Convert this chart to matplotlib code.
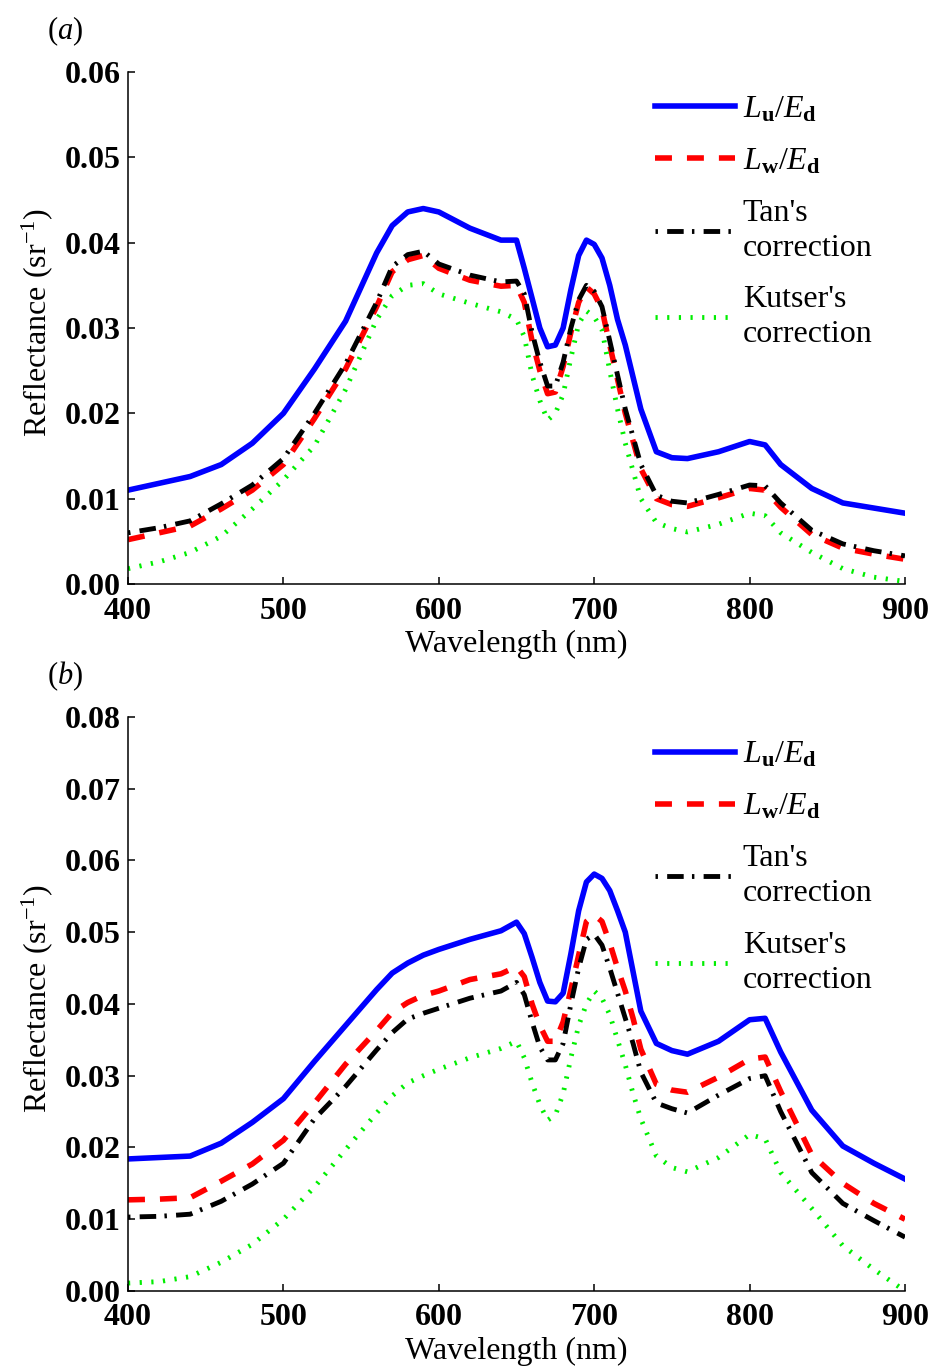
import numpy as np
import matplotlib
matplotlib.use('Agg')
import matplotlib.pyplot as plt

plt.rcParams['font.family'] = ['Liberation Serif', 'DejaVu Serif']
plt.rcParams['mathtext.fontset'] = 'custom'
plt.rcParams['mathtext.rm'] = 'Liberation Serif'
plt.rcParams['mathtext.it'] = 'Liberation Serif:italic'
plt.rcParams['mathtext.bf'] = 'Liberation Serif:bold'

# wavelength grids (nm)
wl_a = [400, 420, 440, 460, 480, 500, 520, 540, 560, 570, 580, 590, 600, 620, 640, 650,
        655, 660, 665, 670, 675, 680, 685, 690, 695, 700, 705, 710, 715, 720, 730, 740,
        750, 760, 780, 800, 810, 820, 840, 860, 880, 900]
wl_b = [400, 420, 440, 460, 480, 500, 520, 540, 560, 570, 580, 590, 600, 620, 640, 650,
        655, 660, 665, 670, 675, 680, 685, 690, 695, 700, 705, 710, 715, 720, 725, 730,
        740, 750, 760, 780, 800, 810, 820, 840, 860, 880, 900]

# panel (a)
lu_a = [0.0110, 0.0118, 0.0126, 0.0140, 0.0165, 0.0200, 0.0252, 0.0308, 0.0388, 0.0420,
        0.0436, 0.0440, 0.0436, 0.0417, 0.0403, 0.0403, 0.0370, 0.0335, 0.0300, 0.0278,
        0.0280, 0.0300, 0.0345, 0.0385, 0.0403, 0.0398, 0.0382, 0.0350, 0.0310, 0.0280,
        0.0205, 0.0155, 0.0148, 0.0147, 0.0155, 0.0167, 0.0163, 0.0140, 0.0112, 0.0095,
        0.0089, 0.0083]
lw_a = [0.0052, 0.0060, 0.0068, 0.0088, 0.0110, 0.0140, 0.0194, 0.0252, 0.0325, 0.0366,
        0.0380, 0.0385, 0.0370, 0.0356, 0.0349, 0.0350, 0.0330, 0.0285, 0.0250, 0.0223,
        0.0225, 0.0255, 0.0295, 0.0330, 0.0348, 0.0340, 0.0322, 0.0280, 0.0240, 0.0200,
        0.0135, 0.0100, 0.0093, 0.0091, 0.0101, 0.0112, 0.0110, 0.0090, 0.0058, 0.0042,
        0.0035, 0.0029]
tan_a = [0.0060, 0.0066, 0.0074, 0.0094, 0.0116, 0.0147, 0.0200, 0.0258, 0.0330, 0.0372,
         0.0386, 0.0390, 0.0375, 0.0362, 0.0354, 0.0355, 0.0340, 0.0295, 0.0260, 0.0232,
         0.0232, 0.0260, 0.0300, 0.0333, 0.0350, 0.0343, 0.0325, 0.0285, 0.0245, 0.0205,
         0.0140, 0.0104, 0.0097, 0.0095, 0.0105, 0.0116, 0.0115, 0.0095, 0.0063, 0.0047,
         0.0039, 0.0033]
kut_a = [0.0018, 0.0026, 0.0037, 0.0056, 0.0088, 0.0122, 0.0162, 0.0228, 0.0310, 0.0338,
         0.0350, 0.0352, 0.0340, 0.0329, 0.0319, 0.0310, 0.0290, 0.0245, 0.0215, 0.0192,
         0.0200, 0.0222, 0.0265, 0.0305, 0.0320, 0.0313, 0.0298, 0.0250, 0.0205, 0.0165,
         0.0100, 0.0072, 0.0065, 0.0061, 0.0070, 0.0083, 0.0080, 0.0060, 0.0037, 0.0018,
         0.0008, 0.0003]

# panel (b)
lu_b = [0.0184, 0.0186, 0.0188, 0.0206, 0.0235, 0.0268, 0.0320, 0.0370, 0.0420, 0.0443,
        0.0457, 0.0468, 0.0476, 0.0490, 0.0502, 0.0514, 0.0498, 0.0465, 0.0430, 0.0404,
        0.0403, 0.0415, 0.0470, 0.0530, 0.0570, 0.0581, 0.0575, 0.0558, 0.0530, 0.0500,
        0.0445, 0.0390, 0.0345, 0.0335, 0.0330, 0.0348, 0.0378, 0.0380, 0.0333, 0.0252,
        0.0202, 0.0178, 0.0156]
lw_b = [0.0127, 0.0128, 0.0130, 0.0153, 0.0177, 0.0210, 0.0262, 0.0316, 0.0363, 0.0388,
        0.0402, 0.0412, 0.0418, 0.0434, 0.0442, 0.0452, 0.0438, 0.0400, 0.0370, 0.0348,
        0.0348, 0.0375, 0.0420, 0.0468, 0.0515, 0.0524, 0.0515, 0.0485, 0.0450, 0.0418,
        0.0380, 0.0337, 0.0288, 0.0280, 0.0277, 0.0298, 0.0323, 0.0326, 0.0278, 0.0190,
        0.0150, 0.0122, 0.0100]
tan_b = [0.0103, 0.0104, 0.0107, 0.0125, 0.0149, 0.0178, 0.0240, 0.0285, 0.0336, 0.0360,
         0.0379, 0.0387, 0.0394, 0.0408, 0.0418, 0.0430, 0.0413, 0.0375, 0.0340, 0.0322,
         0.0322, 0.0345, 0.0400, 0.0450, 0.0490, 0.0497, 0.0482, 0.0450, 0.0415, 0.0380,
         0.0345, 0.0305, 0.0262, 0.0254, 0.0248, 0.0273, 0.0296, 0.0300, 0.0250, 0.0165,
         0.0122, 0.0098, 0.0075]
kut_b = [0.0011, 0.0013, 0.0020, 0.0040, 0.0065, 0.0100, 0.0145, 0.0197, 0.0248, 0.0272,
         0.0290, 0.0300, 0.0309, 0.0325, 0.0338, 0.0348, 0.0325, 0.0290, 0.0260, 0.0238,
         0.0245, 0.0275, 0.0325, 0.0370, 0.0400, 0.0418, 0.0408, 0.0385, 0.0350, 0.0315,
         0.0275, 0.0240, 0.0188, 0.0172, 0.0166, 0.0186, 0.0218, 0.0212, 0.0165, 0.0115,
         0.0063, 0.0030, 0.0000]

labels = [r'$L_{\mathbf{u}}/E_{\mathbf{d}}$', r'$L_{\mathbf{w}}/E_{\mathbf{d}}$',
          "Tan's\ncorrection", "Kutser's\ncorrection"]

fs = 23
fig = plt.figure(figsize=(9.33, 13.69), dpi=100)
ax_a = fig.add_axes([0.1372, 0.5734, 0.8328, 0.374])
ax_b = fig.add_axes([0.1372, 0.0570, 0.8328, 0.4193])


def draw_panel(ax, wl, lu, lw, tan, kut, ymax, tag, leg_y):
    ax.plot(wl, lu, color='#0000ff', lw=4, solid_joinstyle='round', label=labels[0])
    ax.plot(wl, lw, color='#ff0000', lw=4, linestyle=(0, (3.05, 2.7)), label=labels[1])
    ax.plot(wl, tan, color='black', lw=3.5, linestyle=(0, (0.5, 1.9, 3.4, 1.7)), label=labels[2])
    ax.plot(wl, kut, color='#00ee00', lw=3.5, linestyle=(0, (0.45, 1.95)), label=labels[3])
    ax.set_xlim(400, 900)
    ax.set_ylim(0, ymax)
    ax.set_xticks(np.arange(400, 901, 100))
    ax.set_yticks(np.arange(0, ymax + 1e-9, 0.01))
    ax.yaxis.set_major_formatter(matplotlib.ticker.FormatStrFormatter('%.2f'))
    ax.spines['top'].set_visible(False)
    ax.spines['right'].set_visible(False)
    for s in ['left', 'bottom']:
        ax.spines[s].set_linewidth(1.1)
    ax.tick_params(direction='in', length=5, width=1.1, labelsize=fs)
    ax.tick_params(axis='x', pad=9)
    ax.tick_params(axis='y', pad=5)
    for t in ax.get_xticklabels() + ax.get_yticklabels():
        t.set_fontweight('bold')
    ax.set_xlabel('Wavelength (nm)', fontsize=fs, labelpad=3)
    ax.set_ylabel(r'Reflectance (sr$^{\mathrm{-1}}$)', fontsize=fs)
    ax.yaxis.set_label_coords(-0.094, 0.51)
    leg = ax.legend(loc='upper left', bbox_to_anchor=(0.678, leg_y), frameon=False,
                    fontsize=fs, handlelength=2.5, handletextpad=0.25,
                    labelspacing=0.7, borderpad=0, borderaxespad=0)
    for t in leg.get_texts():
        t.set_linespacing(1.28)
    fig.text(ax.get_position().x0 - 0.087, ax.get_position().y1 + 0.024, tag,
             fontsize=22)


draw_panel(ax_a, wl_a, lu_a, lw_a, tan_a, kut_a, 0.06, r'($\mathit{a}$)', 0.955)
draw_panel(ax_b, wl_b, lu_b, lw_b, tan_b, kut_b, 0.08, r'($\mathit{b}$)', 0.959)

fig.savefig('out.png', dpi=100)
